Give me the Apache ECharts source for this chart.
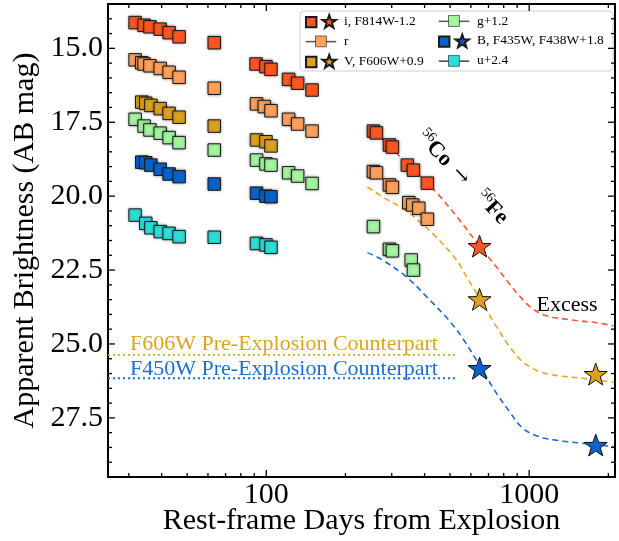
<!DOCTYPE html>
<html><head><meta charset="utf-8">
<script src="https://cdn.jsdelivr.net/npm/echarts@6/dist/echarts.min.js"></script>
<style>html,body{margin:0;padding:0;background:#fff}#c{width:619px;height:541px}</style>
</head><body><div id="c"></div>
<script>
const FONT = '"Liberation Serif", "Times New Roman", serif';

// ---------------- data (rest-frame days, AB mag) ----------------
const iDays = [31.7, 34.3, 36.1, 39.5, 42.7, 46.6, 63.4, 91.4, 99.7, 104.2, 121.6, 131.6, 149.3, 255.6, 262.4, 294, 301.8, 344, 362.9, 410];
const iMag  = [14.13, 14.22, 14.27, 14.35, 14.47, 14.61, 14.81, 15.53, 15.62, 15.71, 16.05, 16.18, 16.41, 17.80, 17.86, 18.27, 18.34, 18.95, 19.12, 19.56];
const iStarDays = [647.4];
const iStarMag  = [21.69];

const rDays = [31.7, 33.6, 34.3, 36.1, 39.5, 42.7, 46.6, 63.4, 91.8, 98.3, 104.2, 121.6, 131.6, 149.3, 255.6, 262.4, 294, 301.8, 348.3, 360.7, 380.2, 410];
const rMag  = [15.39, 15.49, 15.53, 15.59, 15.68, 15.81, 15.98, 16.35, 16.88, 16.97, 17.11, 17.40, 17.56, 17.80, 19.17, 19.21, 19.62, 19.70, 20.22, 20.30, 20.41, 20.78];

const vDays = [33.6, 34.8, 36.4, 39.5, 42.7, 46.6, 63.4, 91.8, 99.7, 104.2];
const vMag  = [16.82, 16.86, 16.93, 17.04, 17.20, 17.33, 17.63, 18.10, 18.16, 18.30];
const vStarDays = [647.4, 1791];
const vStarMag  = [23.49, 26.02];

const gDays = [31.7, 34.3, 36.1, 39.5, 42.7, 46.6, 63.4, 91.8, 99.7, 104.2, 121.6, 131.6, 149.3, 255.6, 294, 301.8, 355.7, 362.9];
const gMag  = [17.40, 17.63, 17.76, 17.87, 18.02, 18.19, 18.44, 18.78, 18.91, 18.95, 19.21, 19.32, 19.57, 21.03, 21.80, 21.85, 22.16, 22.50];

const bDays = [33.6, 34.8, 36.4, 39.5, 42.7, 46.6, 63.4, 91.8, 99.7, 104.2];
const bMag  = [18.85, 18.87, 18.95, 19.09, 19.25, 19.34, 19.59, 19.90, 20.00, 20.02];
const bStarDays = [647.4, 1791];
const bStarMag  = [25.82, 28.42];

const uDays = [31.7, 34.8, 36.4, 39.5, 42.7, 46.6, 63.4, 91.8, 99.7, 104.2];
const uMag  = [20.64, 20.92, 21.07, 21.20, 21.26, 21.37, 21.39, 21.60, 21.65, 21.73];

// model curves
const iModelDays = [274.1, 321, 382.4, 455.9, 543.3, 647.4, 751.3, 842, 919.2, 1000, 1090, 1200, 1350, 1556, 1806, 2096];
const iModelMag  = [18.03, 18.64, 19.29, 19.99, 20.81, 21.69, 22.40, 22.97, 23.38, 23.72, 23.95, 24.08, 24.15, 24.22, 24.28, 24.39];
const vModelDays = [242.5, 276.6, 341.3, 428.7, 529.1, 582.6, 647.4, 751.3, 842, 943.9, 1095.6, 1306, 1597, 2096];
const vModelMag  = [19.69, 20.02, 20.50, 21.26, 22.16, 22.78, 23.45, 24.42, 25.09, 25.60, 25.94, 26.08, 26.16, 26.30];
const bModelDays = [242.5, 276.6, 341.3, 406.8, 497.6, 557.6, 647.4, 751.3, 842, 943.9, 1095.6, 1306, 1597, 2096];
const bModelMag  = [21.91, 22.16, 22.73, 23.40, 24.22, 24.80, 25.72, 26.67, 27.29, 27.85, 28.14, 28.27, 28.36, 28.47];

// pre-explosion counterparts
const preV = 25.37, preB = 26.16, preStart = 25, preEnd = 534;

// axes / ticks
const X_MIN = 25, X_MAX = 2120, Y_MIN = 13.5, Y_MAX = 29.5;
const xMajorTicks = [100, 1000];
const xMinorTicks = [30, 40, 50, 60, 70, 80, 90, 200, 300, 400, 500, 600, 700, 800, 900, 2000];
const yMajorTicks = [15, 17.5, 20, 22.5, 25, 27.5];
const yMinorTicks = [14, 14.5, 15.5, 16, 16.5, 17, 18, 18.5, 19, 19.5, 20.5, 21, 21.5, 22, 23, 23.5, 24, 24.5, 25.5, 26, 26.5, 27, 28, 28.5, 29];

const names = {i:'i, F814W-1.2', r:'r', v:'V, F606W+0.9', g:'g+1.2', b:'B, F435W, F438W+1.8', u:'u+2.4'};
const colors = {i:'#FF5624', r:'#FFA15E', v:'#DAA21E', g:'#A3F5A0', b:'#0763CB', u:'#2FDDD8'};
const curveColors = {i:'#FF5733', v:'#E2A823', b:'#1B6DD8'};

const zip = (a, b) => a.map((x, k) => [x, b[k]]);

const STAR = 'path://M10 0 L12.351 6.764 L19.511 6.910 L13.804 11.236 L15.878 18.090 L10 14 L4.122 18.090 L6.196 11.236 L0.489 6.910 L7.649 6.764 Z';
const ICON_SQ_STAR = 'path://M0 2.5 L11 2.5 L11 13.5 L0 13.5 Z M24.5 0.5 L26.263 5.573 L31.633 5.682 L27.353 8.927 L28.908 14.068 L24.5 11 L20.092 14.068 L21.647 8.927 L17.367 5.682 L22.737 5.573 Z';
const ICON_LINE_SQ = 'path://M0 7.2 L10 7.2 L10 7.9 L0 7.9 Z M10 1.5 L21.5 1.5 L21.5 13 L10 13 Z M21.5 7.2 L31.6 7.2 L31.6 7.9 L21.5 7.9 Z';

function squares(key, d, m) {
  return {type:'scatter', name:names[key], data:zip(d, m), symbol:'rect', symbolSize:12.5, z:4,
    itemStyle:{color:colors[key], borderColor:'#1a1a1a', borderWidth:1, opacity:1, shadowBlur:3, shadowColor:'rgba(0,0,0,0.35)'}};
}
function stars(key, d, m) {
  return {type:'scatter', name:names[key], data:zip(d, m), symbol:STAR, symbolSize:23, symbolKeepAspect:true, z:5,
    itemStyle:{color:colors[key], borderColor:'#111', borderWidth:1, opacity:1}};
}
function curve(key, d, m) {
  return {type:'line', data:zip(d, m), showSymbol:false, smooth:0.35, z:2, silent:true,
    lineStyle:{color:curveColors[key], width:1.6, type:[6, 4]}};
}
function ticks(list, major, isX) {
  return list.map(v => isX ? [v, Y_MIN, major] : [X_MIN, v, major]);
}
function tickSeries(data, isX) {
  return {type:'custom', silent:true, z:10, clip:false, data:data,
    renderItem: function (params, api) {
      const major = api.value(2);
      const len = major ? 7 : 4;
      const st = {stroke:'#000', lineWidth:1.3};
      if (isX) {
        const v = api.value(0);
        const a = api.coord([v, Y_MAX]), b = api.coord([v, Y_MIN]);
        return {type:'group', children:[
          {type:'line', shape:{x1:a[0], y1:a[1], x2:a[0], y2:a[1]-len}, style:st},
          {type:'line', shape:{x1:b[0], y1:b[1], x2:b[0], y2:b[1]+len}, style:st}]};
      }
      const v = api.value(1);
      const a = api.coord([X_MIN, v]), b = api.coord([X_MAX, v]);
      return {type:'group', children:[
        {type:'line', shape:{x1:a[0], y1:a[1], x2:a[0]+len, y2:a[1]}, style:st},
        {type:'line', shape:{x1:b[0], y1:b[1], x2:b[0]-len, y2:b[1]}, style:st}]};
    }};
}

const chart = echarts.init(document.getElementById('c'), null, {renderer:'canvas'});
const option = {
  animation:false,
  backgroundColor:'#fff',
  grid:{left:108, right:4, top:4, bottom:64, containLabel:false, outerBoundsMode:'none',
        show:true, borderColor:'#000', borderWidth:2, backgroundColor:'transparent'},
  xAxis:{type:'log', min:X_MIN, max:X_MAX, logBase:10,
    name:'Rest-frame Days from Explosion', nameLocation:'middle', nameGap:29, nameMoveOverlap:false,
    nameTextStyle:{fontFamily:FONT, fontSize:30, color:'#000'},
    axisLine:{show:false}, axisTick:{show:false}, splitLine:{show:false}, minorTick:{show:false},
    axisLabel:{fontFamily:FONT, fontSize:30, color:'#000', margin:3, showMinLabel:true, showMaxLabel:true,
      formatter: v => { const l = Math.log10(v); return Math.abs(l - Math.round(l)) < 1e-6 ? String(Math.round(v)) : ''; }}},
  yAxis:{type:'value', inverse:true, min:Y_MIN, max:Y_MAX, interval:0.5,
    name:'Apparent Brightness (AB mag)', nameLocation:'middle', nameGap:68, nameRotate:90, nameMoveOverlap:false,
    nameTextStyle:{fontFamily:FONT, fontSize:30, color:'#000'},
    axisLine:{show:false}, axisTick:{show:false}, splitLine:{show:false},
    axisLabel:{fontFamily:FONT, fontSize:30, color:'#000', margin:5, interval:0,
      formatter: v => { const q = v / 2.5; return Math.abs(q - Math.round(q)) < 1e-6 ? v.toFixed(1) : ''; }}},
  legend:[
    {orient:'vertical', left:305, top:14, padding:0, itemWidth:30, itemHeight:14, itemGap:5.5,
     textStyle:{fontFamily:FONT, fontSize:13.5, color:'#000', padding:[0,0,0,3]},
     data:[{name:names.i, icon:ICON_SQ_STAR}, {name:names.r, icon:ICON_LINE_SQ, itemStyle:{borderWidth:0.6}}, {name:names.v, icon:ICON_SQ_STAR}]},
    {orient:'vertical', left:438, top:14, padding:0, itemWidth:30, itemHeight:14, itemGap:5.5,
     textStyle:{fontFamily:FONT, fontSize:13.5, color:'#000', padding:[0,0,0,3]},
     data:[{name:names.g, icon:ICON_LINE_SQ, itemStyle:{borderWidth:0.6}}, {name:names.b, icon:ICON_SQ_STAR}, {name:names.u, icon:ICON_LINE_SQ, itemStyle:{borderWidth:0.6}}]}
  ],
  graphic:[
    {type:'rect', z:3, shape:{x:300, y:11, width:313, height:60, r:4}, style:{fill:'rgba(255,255,255,0.9)', stroke:'#cfcfcf', lineWidth:1}},
    {type:'text', z:6, x:130, y:344, style:{text:'F606W Pre-Explosion Counterpart', fill:'#DAA520', fontFamily:FONT, fontSize:22, verticalAlign:'middle'}},
    {type:'text', z:6, x:130, y:369, style:{text:'F450W Pre-Explosion Counterpart', fill:'#1A6FD6', fontFamily:FONT, fontSize:22, verticalAlign:'middle'}},
    {type:'text', z:6, x:567, y:305, style:{text:'Excess', fill:'#000', fontFamily:FONT, fontSize:22, align:'center', verticalAlign:'middle'}},
    {type:'group', z:6, x:420, y:134, rotation:-0.80, children:[
      {type:'text', x:0, y:-6, style:{text:'56', fill:'#000', fontFamily:FONT, fontSize:14, verticalAlign:'middle'}},
      {type:'text', x:14, y:0, style:{text:'Co', fill:'#000', fontFamily:FONT, fontSize:22, fontWeight:'bold', verticalAlign:'middle'}},
      {type:'text', x:50, y:0, style:{text:'\u2192', fill:'#000', fontFamily:'"DejaVu Serif", serif', fontSize:20, verticalAlign:'middle'}},
      {type:'text', x:84, y:-6, style:{text:'56', fill:'#000', fontFamily:FONT, fontSize:14, verticalAlign:'middle'}},
      {type:'text', x:98, y:0, style:{text:'Fe', fill:'#000', fontFamily:FONT, fontSize:22, fontWeight:'bold', verticalAlign:'middle'}}
    ]}
  ],
  series:[
    {type:'line', data:[[preStart, preV], [preEnd, preV]], showSymbol:false, silent:true, z:1, lineStyle:{color:'#DAA520', width:1.8, type:[2, 3]}},
    {type:'line', data:[[preStart, preB], [preEnd, preB]], showSymbol:false, silent:true, z:1, lineStyle:{color:'#1A6FD6', width:1.8, type:[2, 3]}},
    curve('i', iModelDays, iModelMag),
    curve('v', vModelDays, vModelMag),
    curve('b', bModelDays, bModelMag),
    squares('i', iDays, iMag),
    squares('r', rDays, rMag),
    squares('v', vDays, vMag),
    squares('g', gDays, gMag),
    squares('b', bDays, bMag),
    squares('u', uDays, uMag),
    stars('i', iStarDays, iStarMag),
    stars('v', vStarDays, vStarMag),
    stars('b', bStarDays, bStarMag),
    tickSeries(ticks(xMajorTicks, 1, true).concat(ticks(xMinorTicks, 0, true)), true),
    tickSeries(ticks(yMajorTicks, 1, false).concat(ticks(yMinorTicks, 0, false)), false)
  ]
};
chart.setOption(option);
</script>
</body></html>
